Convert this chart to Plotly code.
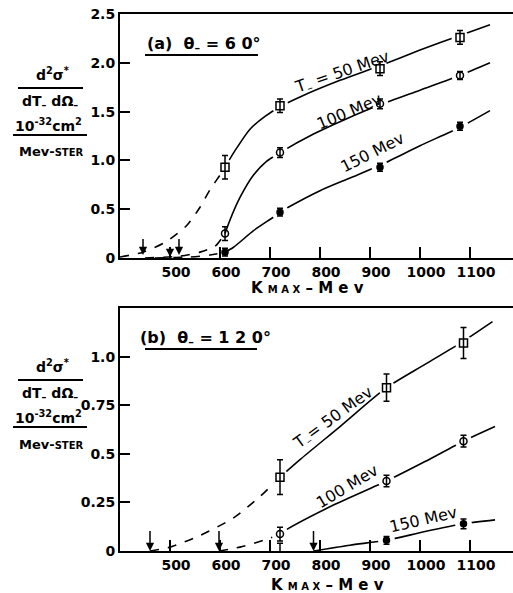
import plotly.graph_objects as go
from plotly.subplots import make_subplots

# ---------------- data ----------------
# Panel (a): theta = 60 deg
k_a = [610, 720, 920, 1080]
t50_a = [0.93, 1.56, 1.94, 2.26]
t50_a_err = [0.12, 0.07, 0.07, 0.07]
t100_a = [0.25, 1.08, 1.58, 1.87]
t100_a_err = [0.07, 0.05, 0.05, 0.04]
t150_a = [0.06, 0.47, 0.93, 1.35]
t150_a_err = [0.04, 0.04, 0.04, 0.04]

# hand-drawn curves
c50_a_dash_k = [400, 446, 490, 533, 560, 580, 600, 610]
c50_a_dash_v = [0.01, 0.06, 0.16, 0.33, 0.52, 0.70, 0.85, 0.93]
c50_a_sol_k = [610, 630, 660, 690, 720, 760, 840, 920, 1000, 1080, 1140]
c50_a_sol_v = [0.93, 1.10, 1.32, 1.45, 1.55, 1.65, 1.82, 1.97, 2.13, 2.28, 2.39]
c100_a_dash_k = [450, 520, 560, 590, 610]
c100_a_dash_v = [0.0, 0.02, 0.06, 0.12, 0.25]
c100_a_sol_k = [610, 620, 640, 667, 693, 720, 787, 850, 920, 1000, 1080, 1140]
c100_a_sol_v = [0.25, 0.39, 0.62, 0.85, 0.99, 1.08, 1.27, 1.42, 1.57, 1.72, 1.87, 2.0]
c150_a_dash_k = [470, 540, 580, 610]
c150_a_dash_v = [0.0, 0.01, 0.03, 0.06]
c150_a_sol_k = [610, 627, 667, 707, 720, 733, 800, 860, 920, 1000, 1080, 1140]
c150_a_sol_v = [0.06, 0.11, 0.28, 0.42, 0.47, 0.51, 0.69, 0.82, 0.95, 1.15, 1.34, 1.51]

# upper-limit arrows (a)
arr_a_k = [446, 500, 518]
arr_a_tail = [0.21, 0.11, 0.21]
arr_a_head = [0.03, 0.01, 0.03]

# Panel (b): theta = 120 deg
k_b = [720, 933, 1087]
t50_b = [0.38, 0.84, 1.07]
t50_b_err = [0.09, 0.07, 0.08]
t100_b = [0.087, 0.36, 0.565]
t100_b_err = [0.035, 0.03, 0.03]
t150_b = [-0.01, 0.055, 0.14]
t150_b_err = [0.05, 0.02, 0.025]

c50_b_dash_k = [460, 500, 560, 627, 680, 720]
c50_b_dash_v = [0.0, 0.02, 0.08, 0.17, 0.28, 0.38]
c50_b_sol_k = [720, 760, 840, 933, 1010, 1087, 1145]
c50_b_sol_v = [0.38, 0.47, 0.64, 0.84, 0.96, 1.08, 1.18]
c100_b_dash_k = [598, 640, 693, 720]
c100_b_dash_v = [0.0, 0.02, 0.06, 0.087]
c100_b_sol_k = [720, 733, 830, 933, 1010, 1087, 1150]
c100_b_sol_v = [0.087, 0.11, 0.24, 0.36, 0.46, 0.565, 0.64]
c150_b_sol_k = [787, 860, 933, 1010, 1087, 1150]
c150_b_sol_v = [0.0, 0.03, 0.055, 0.10, 0.14, 0.16]

arr_b_k = [460, 598, 787]
arr_b_tail = [0.11, 0.11, 0.11]
arr_b_head = [0.0, 0.0, 0.0]

# axes / tick labels
x_ticks = [500, 600, 700, 800, 900, 1000, 1100]
x_ticktext = ["500", "600", "700", "800", "900", "1000", "1100"]
y_ticks_a = [0, 0.5, 1.0, 1.5, 2.0, 2.5]
y_ticktext_a = ["0", "0.5", "1.0", "1.5", "2.0", "2.5"]
y_ticks_b = [0, 0.25, 0.5, 0.75, 1.0]
y_ticktext_b = ["0", "0.25", "0.5", "0.75", "1.0"]

# curve labels: (text, K, value, angle)
labels_a = [("T<sub>–</sub> = 50 Mev", 844, 1.90, -19),
            ("100 Mev", 858, 1.50, -23),
            ("150 Mev", 904, 1.08, -27)]
labels_b = [("T<sub>–</sub>= 50 Mev", 826, 0.68, -36),
            ("100 Mev", 854, 0.33, -31),
            ("150 Mev", 1006, 0.16, -13)]

# ---------------- figure ----------------
W, H = 513, 593
ML = 120
FONT = "DejaVu Sans"
BLACK = "black"

def px(x):
    return (x - ML) / (W - ML)

def py(y):
    return 1 - y / H

fig = make_subplots(rows=2, cols=1)

def curve(k, v, row, dash):
    fig.add_trace(go.Scatter(x=k, y=v, mode="lines",
                             line=dict(color=BLACK, width=1.6, dash=dash, shape="spline", smoothing=0.7),
                             hoverinfo="skip", showlegend=False), row=row, col=1)

def halo(k, v, row):
    fig.add_trace(go.Scatter(x=k, y=v, mode="markers",
                             marker=dict(color="white", size=17, line=dict(width=0)),
                             hoverinfo="skip", showlegend=False), row=row, col=1)

def points(k, v, err, row, symbol, size):
    fig.add_trace(go.Scatter(x=k, y=v, mode="markers",
                             marker=dict(symbol=symbol, size=size, color=BLACK,
                                         line=dict(color=BLACK, width=1.5)),
                             error_y=dict(type="data", array=err, color=BLACK, thickness=1.5, width=3),
                             cliponaxis=False, showlegend=False), row=row, col=1)

# panel a curves
curve(c50_a_dash_k, c50_a_dash_v, 1, "dash")
curve(c50_a_sol_k, c50_a_sol_v, 1, "solid")
curve(c100_a_dash_k, c100_a_dash_v, 1, "dash")
curve(c100_a_sol_k, c100_a_sol_v, 1, "solid")
curve(c150_a_dash_k, c150_a_dash_v, 1, "dash")
curve(c150_a_sol_k, c150_a_sol_v, 1, "solid")
halo(k_a, t50_a, 1)
halo(k_a[1:], t100_a[1:], 1)
halo(k_a[1:], t150_a[1:], 1)
points(k_a, t50_a, t50_a_err, 1, "square-open", 8)
points(k_a, t100_a, t100_a_err, 1, "circle-open", 7)
points(k_a, t150_a, t150_a_err, 1, "circle", 6)

# panel b curves
curve(c50_b_dash_k, c50_b_dash_v, 2, "dash")
curve(c50_b_sol_k, c50_b_sol_v, 2, "solid")
curve(c100_b_dash_k, c100_b_dash_v, 2, "dash")
curve(c100_b_sol_k, c100_b_sol_v, 2, "solid")
curve(c150_b_sol_k, c150_b_sol_v, 2, "solid")
halo(k_b, t50_b, 2)
halo(k_b, t100_b, 2)
halo(k_b[1:], t150_b[1:], 2)
points(k_b, t50_b, t50_b_err, 2, "square-open", 8)
points(k_b, t100_b, t100_b_err, 2, "circle-open", 7)
points(k_b, t150_b, t150_b_err, 2, "circle", 6)

tickfont = dict(family=FONT, size=14, color=BLACK, weight="bold")
xr = [400, 400 + (W - ML) * 2]
for r, dom, ticks, ttxt, yr in [(1, [py(258), py(14)], y_ticks_a, y_ticktext_a, [0, 2.5]),
                                 (2, [py(551), py(308)], y_ticks_b, y_ticktext_b, [0, 1.25])]:
    fig.update_xaxes(row=r, col=1, range=xr, domain=[0, 1], tickvals=x_ticks, ticktext=x_ticktext,
                     ticks="inside", ticklen=11, tickwidth=1.5, tickcolor=BLACK,
                     showline=True, linecolor=BLACK, linewidth=2, mirror=True, automargin=False,
                     showgrid=False, zeroline=False, tickfont=tickfont, ticklabelshift=6)
    fig.update_yaxes(row=r, col=1, range=yr, domain=dom, tickvals=ticks, ticktext=ttxt,
                     ticks="inside", ticklen=10, tickwidth=1.5, tickcolor=BLACK, automargin=False,
                     showline=True, linecolor=BLACK, linewidth=2, mirror=False,
                     showgrid=False, zeroline=False, tickfont=tickfont)

ann = []
shapes = []

# arrows
for ks, tails, heads, xr_, yr_ in [(arr_a_k, arr_a_tail, arr_a_head, "x", "y"),
                                   (arr_b_k, arr_b_tail, arr_b_head, "x2", "y2")]:
    for k, t, h in zip(ks, tails, heads):
        ann.append(dict(x=k, y=h, ax=k, ay=t, xref=xr_, yref=yr_, axref=xr_, ayref=yr_,
                        showarrow=True, arrowhead=2, arrowsize=1.1, arrowwidth=1.5,
                        arrowcolor=BLACK, standoff=0, text=""))

# curve labels
for labs, xr_, yr_ in [(labels_a, "x", "y"), (labels_b, "x2", "y2")]:
    for txt, k, v, ang in labs:
        ann.append(dict(x=k, y=v, xref=xr_, yref=yr_, text=txt, textangle=ang, showarrow=False,
                        font=dict(family=FONT, size=16, color=BLACK)))

def text(x, y, t, size=14, bold=False):
    ann.append(dict(x=px(x), y=py(y), xref="paper", yref="paper", text=t, showarrow=False,
                    xanchor="center", yanchor="middle",
                    font=dict(family=FONT, size=size, color=BLACK, weight="bold" if bold else "normal")))

def hline(x0, x1, y, w=1.8):
    shapes.append(dict(type="line", xref="paper", yref="paper", x0=px(x0), x1=px(x1),
                       y0=py(y), y1=py(y), line=dict(color=BLACK, width=w)))

# panel titles
text(204, 44, "(a)  θ<sub>–</sub> = 6 0°", 16, True)
hline(145, 258, 55)
text(205, 338, "(b)  θ<sub>–</sub> = 1 2 0°", 16, True)
hline(145, 257, 349)

# y-axis labels (fractions)
for dy in [0, 292]:
    text(52, 74 + dy, "d<sup>2</sup>σ<sup>*</sup>", 14, True)
    hline(18, 83, 88 + dy)
    text(50, 102 + dy, "dT<sub>–</sub> dΩ<sub>–</sub>", 14, True)
    text(48, 125 + dy, "10<sup>-32</sup>cm<sup>2</sup>", 14, True)
    hline(13, 87, 135 + dy)
    text(51, 152 + dy, "Mev-<span style='font-size:10px'>STER</span>", 13, True)

# x-axis titles
text(307, 288, "K <span style='font-size:10px'>M A X</span> – M e v", 15, True)
text(327, 585, "K <span style='font-size:10px'>M A X</span> – M e v", 15, True)

fig.update_layout(width=W, height=H, margin=dict(l=ML, r=0, t=0, b=0),
                  paper_bgcolor="white", plot_bgcolor="white", showlegend=False,
                  annotations=ann, shapes=shapes, font=dict(family=FONT, color=BLACK))

fig.write_html("out.html", config={"displayModeBar": False},
               post_script="document.body.style.margin='0';document.body.style.overflow='hidden';")
